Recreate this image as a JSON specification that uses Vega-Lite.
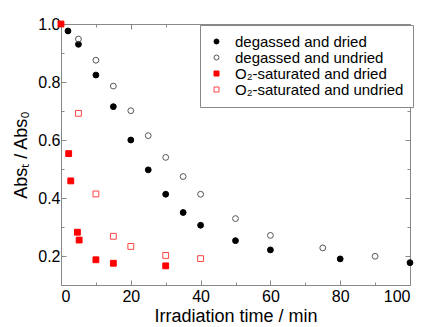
{
  "$schema": "https://vega.github.io/schema/vega-lite/v6.json",
  "width": 349,
  "height": 261,
  "autosize": "none",
  "padding": {"left": 61, "top": 24, "right": 16, "bottom": 42},
  "background": "white",
  "config": {
    "font": "Liberation Sans",
    "view": {"stroke": null},
    "axis": {
      "grid": false,
      "domainColor": "#888888",
      "tickColor": "#888888",
      "labelColor": "black",
      "labelFontSize": 16,
      "titleFontSize": 18,
      "titleFontWeight": "normal",
      "titleColor": "black",
      "labelFont": "Liberation Sans",
      "titleFont": "Liberation Sans"
    }
  },
  "data": {
    "values": [
      {"t": 2, "r": 0.976, "s": "degassed and dried"},
      {"t": 5, "r": 0.93, "s": "degassed and dried"},
      {"t": 10, "r": 0.824, "s": "degassed and dried"},
      {"t": 15, "r": 0.715, "s": "degassed and dried"},
      {"t": 20, "r": 0.6, "s": "degassed and dried"},
      {"t": 25, "r": 0.497, "s": "degassed and dried"},
      {"t": 30, "r": 0.413, "s": "degassed and dried"},
      {"t": 35, "r": 0.35, "s": "degassed and dried"},
      {"t": 40, "r": 0.306, "s": "degassed and dried"},
      {"t": 50, "r": 0.253, "s": "degassed and dried"},
      {"t": 60, "r": 0.221, "s": "degassed and dried"},
      {"t": 80, "r": 0.19, "s": "degassed and dried"},
      {"t": 100, "r": 0.177, "s": "degassed and dried"},
      {"t": 5, "r": 0.948, "s": "degassed and undried"},
      {"t": 10, "r": 0.875, "s": "degassed and undried"},
      {"t": 15, "r": 0.786, "s": "degassed and undried"},
      {"t": 20, "r": 0.701, "s": "degassed and undried"},
      {"t": 25, "r": 0.615, "s": "degassed and undried"},
      {"t": 30, "r": 0.54, "s": "degassed and undried"},
      {"t": 35, "r": 0.474, "s": "degassed and undried"},
      {"t": 40, "r": 0.413, "s": "degassed and undried"},
      {"t": 50, "r": 0.329, "s": "degassed and undried"},
      {"t": 60, "r": 0.271, "s": "degassed and undried"},
      {"t": 75, "r": 0.228, "s": "degassed and undried"},
      {"t": 90, "r": 0.199, "s": "degassed and undried"},
      {"t": 5, "r": 0.692, "s": "O₂-saturated and undried"},
      {"t": 10, "r": 0.414, "s": "O₂-saturated and undried"},
      {"t": 15, "r": 0.268, "s": "O₂-saturated and undried"},
      {"t": 20, "r": 0.233, "s": "O₂-saturated and undried"},
      {"t": 30, "r": 0.202, "s": "O₂-saturated and undried"},
      {"t": 40, "r": 0.191, "s": "O₂-saturated and undried"},
      {"t": 0, "r": 1.0, "s": "O₂-saturated and dried"},
      {"t": 2.2, "r": 0.553, "s": "O₂-saturated and dried"},
      {"t": 2.8, "r": 0.459, "s": "O₂-saturated and dried"},
      {"t": 4.7, "r": 0.282, "s": "O₂-saturated and dried"},
      {"t": 5.2, "r": 0.255, "s": "O₂-saturated and dried"},
      {"t": 10, "r": 0.187, "s": "O₂-saturated and dried"},
      {"t": 15, "r": 0.175, "s": "O₂-saturated and dried"},
      {"t": 30, "r": 0.166, "s": "O₂-saturated and dried"}
    ]
  },
  "resolve": {"axis": {"x": "independent", "y": "independent"}},
  "layer": [
    {
      "mark": {"type": "point", "opacity": 0},
      "encoding": {
        "x": {
          "field": "t", "type": "quantitative",
          "scale": {"domain": [0, 100], "nice": false, "zero": false},
          "axis": {
            "orient": "top", "labels": false, "title": null,
            "values": [0, 10, 20, 30, 40, 50, 60, 70, 80, 90, 100],
            "tickSize": {"condition": {"test": "datum.value % 20 === 0", "value": -5}, "value": -3}
          }
        },
        "y": {
          "field": "r", "type": "quantitative",
          "scale": {"domain": [0.1, 1.0], "nice": false, "zero": false},
          "axis": {
            "orient": "right", "labels": false, "title": null,
            "values": [0.1, 0.2, 0.3, 0.4, 0.5, 0.6, 0.7, 0.8, 0.9, 1.0],
            "tickSize": {"condition": {"test": "round(datum.value * 10) % 2 === 0", "value": -5}, "value": -3}
          }
        }
      }
    },
    {
      "mark": {"type": "point", "strokeWidth": 1, "opacity": 1},
      "encoding": {
        "x": {
          "field": "t", "type": "quantitative",
          "scale": {"domain": [0, 100], "nice": false, "zero": false},
          "axis": {
            "orient": "bottom",
            "title": "Irradiation time / min",
            "values": [0, 10, 20, 30, 40, 50, 60, 70, 80, 90, 100],
            "labelExpr": "datum.value % 20 === 0 ? datum.label : ''",
            "tickSize": {"condition": {"test": "datum.value % 20 === 0", "value": -5}, "value": -3},
            "labelPadding": 8,
            "titlePadding": 3
          }
        },
        "y": {
          "field": "r", "type": "quantitative",
          "scale": {"domain": [0.1, 1.0], "nice": false, "zero": false},
          "axis": {
            "orient": "left",
            "title": "Absₜ / Abs₀",
            "format": ".1f",
            "values": [0.1, 0.2, 0.3, 0.4, 0.5, 0.6, 0.7, 0.8, 0.9, 1.0],
            "labelExpr": "round(datum.value * 10) % 2 === 0 ? datum.label : ''",
            "tickSize": {"condition": {"test": "round(datum.value * 10) % 2 === 0", "value": -5}, "value": -3},
            "labelPadding": 6,
            "titlePadding": 7
          }
        },
        "shape": {
          "field": "s", "type": "nominal",
          "scale": {
            "domain": ["degassed and dried", "degassed and undried", "O₂-saturated and dried", "O₂-saturated and undried"],
            "range": ["circle", "circle", "square", "square"]
          },
          "legend": {
            "title": null,
            "orient": "none",
            "legendX": 139,
            "legendY": 1,
            "fillColor": "white",
            "strokeColor": "#888888",
            "padding": 9,
            "symbolSize": 25,
            "symbolStrokeWidth": 1,
            "labelFontSize": 15,
            "labelFont": "Liberation Sans",
            "labelColor": "black",
            "labelOffset": 11,
            "labelLimit": 300,
            "rowPadding": 0
          }
        },
        "fill": {
          "field": "s", "type": "nominal",
          "scale": {
            "domain": ["degassed and dried", "degassed and undried", "O₂-saturated and dried", "O₂-saturated and undried"],
            "range": ["black", "transparent", "#ff0000", "transparent"]
          }
        },
        "stroke": {
          "field": "s", "type": "nominal",
          "scale": {
            "domain": ["degassed and dried", "degassed and undried", "O₂-saturated and dried", "O₂-saturated and undried"],
            "range": ["black", "#555555", "#ff0000", "#ff4444"]
          }
        },
        "size": {"value": 34}
      }
    }
  ]
}
